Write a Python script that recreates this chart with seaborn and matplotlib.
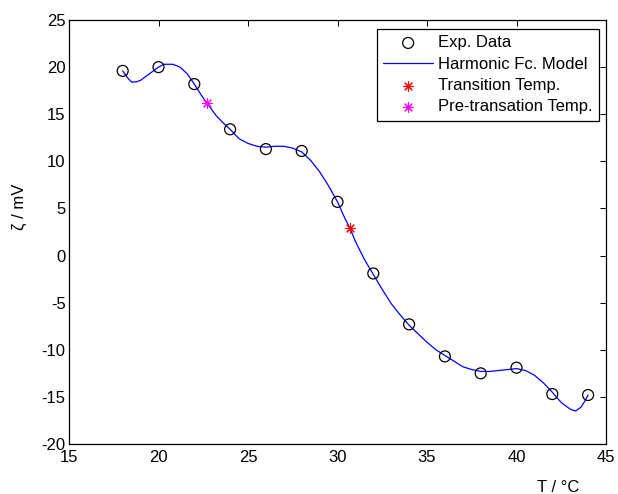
import matplotlib
matplotlib.use("Agg")
import matplotlib.pyplot as plt
import seaborn as sns
import pandas as pd

# Measured zeta potential
temp_exp = [18, 20, 22, 24, 26, 28, 30, 32, 34, 36, 38, 40, 42, 44]
zeta_exp = [19.6, 20.0, 18.2, 13.4, 11.3, 11.1, 5.7, -1.9, -7.3, -10.7,
            -12.5, -11.9, -14.7, -14.8]

# Harmonic (Fourier) model evaluated on a temperature grid
temp_model = [18.0, 18.3, 18.5, 18.8, 19.0, 19.5, 20.0, 20.3, 20.8, 21.2,
              21.6, 22.0, 22.4, 22.7, 23.2, 23.6, 24.0, 24.5, 25.0, 25.5,
              26.0, 26.5, 27.0, 27.5, 28.0, 28.5, 29.0, 29.5, 30.0, 30.4,
              30.7, 31.0, 31.5, 32.0, 32.5, 33.0, 33.5, 34.0, 34.5, 35.0,
              35.5, 36.0, 36.5, 37.0, 37.5, 38.0, 38.5, 39.0, 39.5, 40.0,
              40.5, 41.0, 41.5, 42.0, 42.5, 43.0, 43.3, 43.6, 43.8, 44.0]
zeta_model = [19.6, 18.8, 18.4, 18.45, 18.6, 19.3, 20.0, 20.3, 20.3, 20.0,
              19.3, 18.2, 17.0, 16.2, 14.9, 14.1, 13.4, 12.4, 11.9, 11.6,
              11.5, 11.6, 11.6, 11.4, 11.0, 10.1, 8.9, 7.4, 5.7, 4.0,
              2.9, 1.5, -0.4, -2.0, -3.6, -5.1, -6.3, -7.4, -8.3, -9.2,
              -10.0, -10.6, -11.2, -11.8, -12.1, -12.3, -12.3, -12.2, -12.1, -12.0,
              -12.2, -12.7, -13.5, -14.5, -15.6, -16.3, -16.5, -16.1, -15.5, -14.8]

# Characteristic temperatures on the model curve
transition_t = [30.7]
transition_z = [2.9]
pre_transition_t = [22.7]
pre_transition_z = [16.2]

x_ticks = [15, 20, 25, 30, 35, 40, 45]
y_ticks = [-20, -15, -10, -5, 0, 5, 10, 15, 20, 25]

FS = 12

sns.set_style("white")
plt.rcParams["font.family"] = ["Liberation Sans", "DejaVu Sans"]
plt.rcParams["axes.unicode_minus"] = False
plt.rcParams["xtick.direction"] = "in"
plt.rcParams["ytick.direction"] = "in"
plt.rcParams["text.color"] = "black"
plt.rcParams["axes.labelcolor"] = "black"
plt.rcParams["xtick.color"] = "black"
plt.rcParams["ytick.color"] = "black"

fig = plt.figure(figsize=(6.18, 4.94), dpi=100)
ax = fig.add_axes([69 / 618, 1 - 444 / 494, (606 - 69) / 618, (444 - 20) / 494])

exp_df = pd.DataFrame({"T": temp_exp, "zeta": zeta_exp})
model_df = pd.DataFrame({"T": temp_model, "zeta": zeta_model})

sns.scatterplot(data=exp_df, x="T", y="zeta", ax=ax, marker="o", s=62,
                facecolor="none", edgecolor="black", linewidth=0.9,
                label="Exp. Data", zorder=3)
sns.lineplot(data=model_df, x="T", y="zeta", ax=ax, color=(0, 0, 1),
             linewidth=0.9, label="Harmonic Fc. Model", sort=False,
             estimator=None, zorder=2)
sns.scatterplot(x=transition_t, y=transition_z, ax=ax, marker=(8, 2, 0),
                s=50, color="red", linewidth=0.8,
                label="Transition Temp.", zorder=4)
sns.scatterplot(x=pre_transition_t, y=pre_transition_z, ax=ax,
                marker=(8, 2, 0), s=50, color="magenta", linewidth=0.8,
                label="Pre-transation Temp.", zorder=4)

ax.set_xlim(15, 45)
ax.set_ylim(-20, 25)
ax.set_xticks(x_ticks)
ax.set_yticks(y_ticks)
ax.tick_params(axis="both", which="both", direction="in", length=4.5,
               width=0.7, labelsize=FS, color="black", labelcolor="black",
               top=True, right=True)
ax.tick_params(axis="y", pad=2.5)
ax.tick_params(axis="x", pad=4)
for s in ax.spines.values():
    s.set_visible(True)
    s.set_color("black")
    s.set_linewidth(0.9)

ax.set_xlabel("T / °C", fontsize=FS, color="black")
ax.set_ylabel("ζ / mV", fontsize=FS, color="black")
ax.xaxis.set_label_coords((558 - 69) / 537, -0.085)
ax.yaxis.set_label_coords((27 - 69) / 537, (444 - 207) / 424)

leg = ax.legend(loc="upper right", bbox_to_anchor=((599 - 69) / 537, (444 - 29) / 424),
                borderaxespad=0, fontsize=FS, frameon=True, fancybox=False,
                edgecolor="black", framealpha=1, handlelength=3.0,
                handletextpad=0.3, labelspacing=0.38, borderpad=0.38)
leg.get_frame().set_linewidth(0.9)
for t in leg.get_texts():
    t.set_color("black")

fig.savefig("out.png", dpi=100, facecolor="white")
